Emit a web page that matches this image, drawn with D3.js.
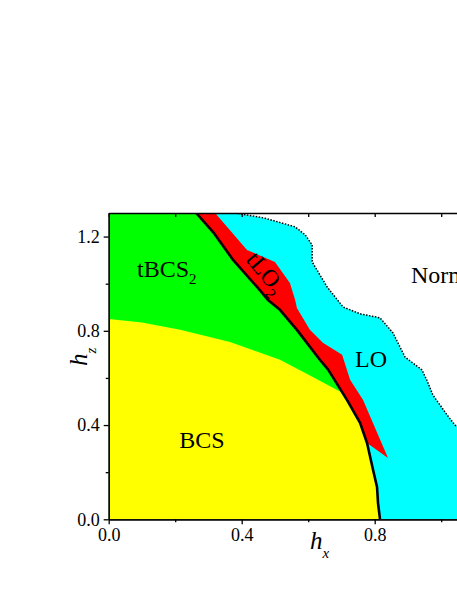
<!DOCTYPE html>
<html>
<head>
<meta charset="utf-8">
<script src="https://cdn.jsdelivr.net/npm/d3@7"></script>
<style>
	body { margin: 0; background: #fff; overflow: hidden; }
	svg text { font-family: 'Liberation Serif', 'Times New Roman', serif; fill: #000; }
	.axis path, .axis line { stroke: #000; stroke-width: 1.3; }
</style>
</head>
<body>
<svg id="chart" width="457" height="591"></svg>
<script>
'use strict';

// phase boundaries, points are [hx, hz]
var bcsEdge = [[0, 0.85], [0.10, 0.835], [0.215, 0.804], [0.365, 0.753], [0.515, 0.677], [0.614, 0.604], [0.687, 0.549], [0.700, 0.540]];
var firstOrderLine = [[0.263, 1.30], [0.314, 1.219], [0.374, 1.101], [0.446, 0.986], [0.479, 0.931], [0.515, 0.889], [0.566, 0.804],
	[0.635, 0.677], [0.660, 0.635], [0.717, 0.506], [0.756, 0.409], [0.777, 0.324], [0.795, 0.210], [0.807, 0.137], [0.810, 0.069], [0.816, 0]];
var tlo2Edge = [[0.320, 1.30], [0.416, 1.143], [0.500, 1.092], [0.545, 1.003], [0.561, 0.930], [0.566, 0.897], [0.605, 0.804],
	[0.644, 0.749], [0.702, 0.698], [0.726, 0.592], [0.765, 0.506], [0.840, 0.260]];
var normalEdge = [[0.380, 1.30], [0.470, 1.278], [0.561, 1.241], [0.591, 1.207], [0.612, 1.164], [0.612, 1.092],
	[0.657, 0.986], [0.705, 0.901], [0.756, 0.872], [0.816, 0.855], [0.855, 0.791], [0.891, 0.689], [0.942, 0.634],
	[0.957, 0.590], [0.975, 0.527], [0.997, 0.484], [1.018, 0.442], [1.042, 0.399], [1.10, 0.36], [1.20, 0.32]];

var phaseNames = ['BCS', 'tBCS', 'tLO', 'LO', 'Normal'];
var phaseSubs = ['', '2', '2', '', ''];

var xTicks = [0, 0.4, 0.8];
var xMinor = [0.2, 0.6, 1.0];
var yTicks = [0, 0.4, 0.8, 1.2];
var yMinor = [0.2, 0.6, 1.0];
var xDomain = [0, 1.2];
var yDomain = [0, 1.3];

var svg = d3.select('#chart');
var x = d3.scaleLinear().domain(xDomain).range([108.7, 507.7]);
var y = d3.scaleLinear().domain(yDomain).range([519.3, 213]);
var line = d3.line().x(function(d) { return x(d[0]); }).y(function(d) { return y(d[1]); });

svg.append('clipPath').attr('id', 'plot-clip')
	.append('rect')
	.attr('x', x(xDomain[0])).attr('y', y(yDomain[1]))
	.attr('width', x(xDomain[1]) - x(xDomain[0]))
	.attr('height', y(yDomain[0]) - y(yDomain[1]));

var plot = svg.append('g').attr('clip-path', 'url(#plot-clip)');

// regions, painted back to front
var lastLine = firstOrderLine[firstOrderLine.length - 1];
var lineReversed = firstOrderLine.slice().reverse();
var cyan = normalEdge.concat([[xDomain[1], 0], lastLine], lineReversed.slice(1));
var green = [[0, yDomain[1]]].concat(firstOrderLine, [[0, 0]]);
var yellowEnd = bcsEdge[bcsEdge.length - 1][1];
var yellow = bcsEdge.concat(firstOrderLine.filter(function(d) { return d[1] < yellowEnd; }), [[0, 0]]);
var tipHz = 0.324;
var red = tlo2Edge.concat(lineReversed.filter(function(d) { return d[1] >= tipHz; }));

var regions = [[cyan, '#00ffff'], [green, '#00ff00'], [yellow, '#ffff00'], [red, '#ff0000']];
plot.selectAll('.region').data(regions).enter()
	.append('path')
	.attr('class', 'region')
	.attr('d', function(d) { return line(d[0]) + 'Z'; })
	.attr('fill', function(d) { return d[1]; })
	.attr('stroke', 'none');

plot.append('path')
	.attr('d', line(firstOrderLine))
	.attr('fill', 'none')
	.attr('stroke', '#000')
	.attr('stroke-width', 2.6)
	.attr('stroke-linejoin', 'round');

plot.append('path')
	.attr('d', line(normalEdge))
	.attr('fill', 'none')
	.attr('stroke', '#000')
	.attr('stroke-width', 1.5)
	.attr('stroke-dasharray', '1.5,1.5');

// axes
var fmt = d3.format('.1f');
function styleAxis(g) {
	g.classed('axis', true);
	g.selectAll('text').style('font-size', '18px');
}
svg.append('g').attr('transform', 'translate(0,' + y(0) + ')')
	.call(d3.axisBottom(x).tickValues(xTicks).tickFormat(fmt).tickSize(5).tickPadding(4).tickSizeOuter(0))
	.call(styleAxis);
svg.append('g').attr('transform', 'translate(0,' + y(0) + ')')
	.call(d3.axisBottom(x).tickValues(xMinor).tickFormat('').tickSize(3).tickSizeOuter(0))
	.call(styleAxis);
svg.append('g').attr('transform', 'translate(' + x(0) + ',0)')
	.call(d3.axisLeft(y).tickValues(yTicks).tickFormat(fmt).tickSize(5).tickPadding(4).tickSizeOuter(0))
	.call(styleAxis);
svg.append('g').attr('transform', 'translate(' + x(0) + ',0)')
	.call(d3.axisLeft(y).tickValues(yMinor).tickFormat('').tickSize(3).tickSizeOuter(0))
	.call(styleAxis);
svg.append('g').attr('transform', 'translate(0,' + y(yDomain[1]) + ')')
	.call(d3.axisTop(x).tickValues(xTicks.concat(xMinor)).tickFormat('').tickSize(-4).tickSizeOuter(0))
	.call(styleAxis);
svg.append('g').attr('transform', 'translate(' + x(xDomain[1]) + ',0)')
	.call(d3.axisRight(y).tickValues(yTicks.concat(yMinor)).tickFormat('').tickSize(-4).tickSizeOuter(0))
	.call(styleAxis);

// axis titles
var xt = svg.append('text').attr('x', 310).attr('y', 549).style('font-size', '25px').style('font-style', 'italic');
xt.append('tspan').text('h');
xt.append('tspan').attr('dy', 9).style('font-size', '15px').text('x');
var yt = svg.append('text').attr('transform', 'translate(87,366) rotate(-90)').style('font-size', '25px').style('font-style', 'italic');
yt.append('tspan').text('h');
yt.append('tspan').attr('dy', 9).style('font-size', '15px').text('z');

// phase labels
var labelAt = [
	{ hx: 0.212, hz: 0.303, rot: 0 },
	{ hx: 0.085, hz: 1.029, rot: 0 },
	{ hx: 0.410, hz: 1.100, rot: 50 },
	{ hx: 0.741, hz: 0.647, rot: 0 },
	{ hx: 0.909, hz: 1.003, rot: 0 }
];
phaseNames.forEach(function(name, i) {
	var p = labelAt[i];
	var t = svg.append('text')
		.attr('transform', 'translate(' + x(p.hx) + ',' + y(p.hz) + ') rotate(' + p.rot + ')')
		.style('font-size', '24px');
	t.append('tspan').text(name);
	if (phaseSubs[i]) {
		t.append('tspan').attr('dy', 7).style('font-size', '15px').text(phaseSubs[i]);
	}
});
</script>
</body>
</html>
